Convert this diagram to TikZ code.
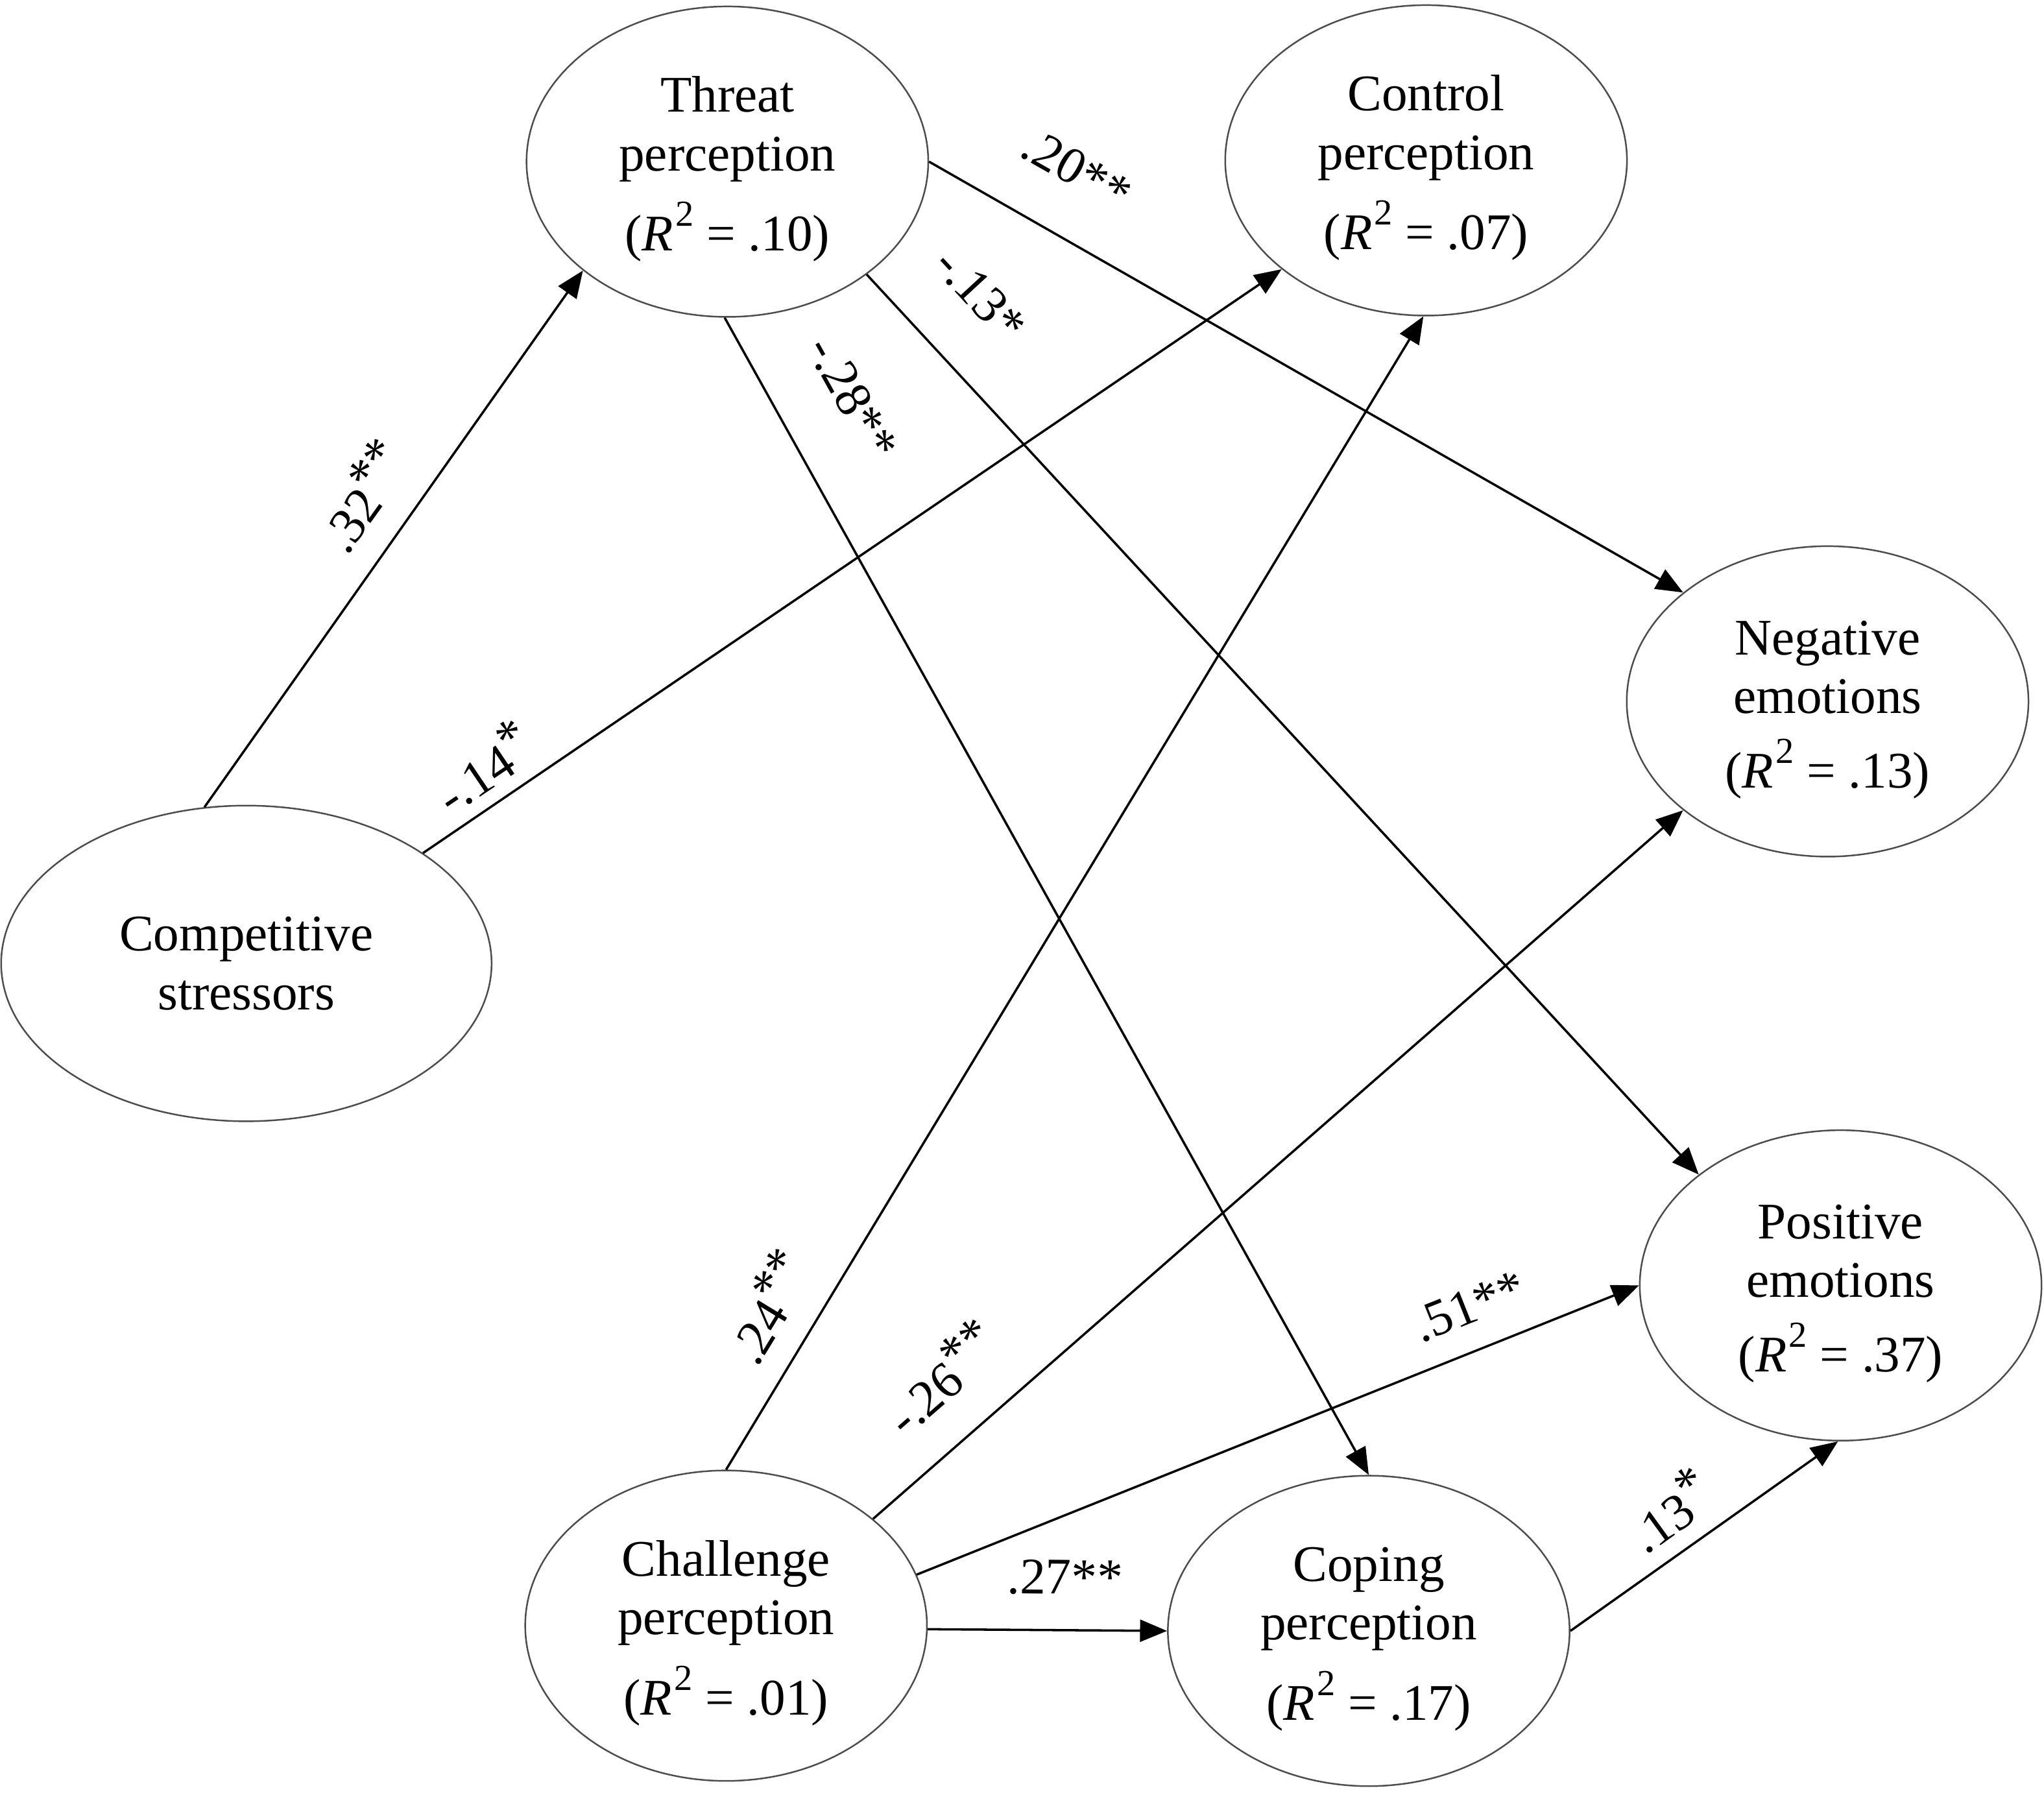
\documentclass[tikz,border=0pt]{standalone}
\usepackage{fontspec}
\setmainfont{Liberation Serif}
\usetikzlibrary{arrows.meta,shapes.geometric}
\newcommand{\rsq}[1]{(\textit{R}\kern0.04em\raisebox{0.48em}{\fontsize{8}{8}\selectfont 2}\ = #1)}
\newcommand{\up}[1]{\raisebox{0.3em}{#1}}
\begin{document}
\begin{tikzpicture}[x=0.01cm,y=-0.01cm,
  ell/.style={draw=black!70, line width=0.35pt, ellipse, inner sep=0pt,
    minimum width=3.08cm, minimum height=2.38cm, align=center,
    font=\fontsize{11.2}{12.8}\selectfont},
  arr/.style={line width=0.5pt, -{Triangle[length=5.9pt,width=4.8pt]}},
  coef/.style={font=\fontsize{11.2}{12.8}\selectfont, inner sep=0pt}]
\useasboundingbox (0,0) rectangle (1568,1378);
% nodes
\node[ell] (T)  at (558,124)  {\rule{0pt}{11pt}Threat\\perception\\[3.4pt]\rsq{.10}};
\node[ell] (C)  at (1094,123) {\rule{0pt}{11pt}Control\\perception\\[3.4pt]\rsq{.07}};
\node[ell] (N)  at (1402,538) {\rule{0pt}{11pt}Negative\\emotions\\[3.4pt]\rsq{.13}};
\node[ell] (P)  at (1412,986) {\rule{0pt}{11pt}Positive\\emotions\\[3.4pt]\rsq{.37}};
\node[ell, minimum width=3.76cm, minimum height=2.42cm] (S) at (189,739) {Competitive\\stressors};
\node[ell] (Ch) at (557,1247) {\rule{0pt}{11pt}Challenge\\perception\\[3.4pt]\rsq{.01}};
\node[ell] (Co) at (1050,1251) {\rule{0pt}{11pt}Coping\\perception\\[3.4pt]\rsq{.17}};
% connectors
\draw[arr] (S.105.6) -- (T.217.9);
\draw[arr] (S.32.6)  -- (C.217.6);
\draw[arr] (T.0)     -- (N.143);
\draw[arr] (T.321.7) -- (P.142);
\draw[arr] (T.269.5) -- (Co.90);
\draw[arr] (Ch.90)   -- (C.269);
\draw[arr] (Ch.36.4) -- (N.217.4);
\draw[arr] (Ch.15.1) -- (P.180);
\draw[arr] (Ch.-1.5) -- (Co.180);
\draw[arr] (Co.0)    -- (P.269.5);
% coefficients
\node[coef, rotate=54.4]  (l1)  at (277,380)  {.32\up{**}};
\node[coef, rotate=34]    (l2)  at (370,588)  {-.14\up{*}};
\node[coef, rotate=-29.6] (l3)  at (826,130)  {.20**};
\node[coef, rotate=-47.3] (l4)  at (752,226)  {-.13*};
\node[coef, rotate=-60.9] (l5)  at (654,305)  {-.28**};
\node[coef, rotate=58.6]  (l6)  at (588,1002) {.24\up{**}};
\node[coef, rotate=41]    (l7)  at (721,1056) {-.26\up{**}};
\node[coef, rotate=21.7]  (l8)  at (1127,1002) {.51**};
\node[coef, rotate=-0.6]  (l9)  at (817,1210) {.27**};
\node[coef, rotate=35.9]  (l10) at (1280,1158) {.13\up{*}};
\end{tikzpicture}
\end{document}
